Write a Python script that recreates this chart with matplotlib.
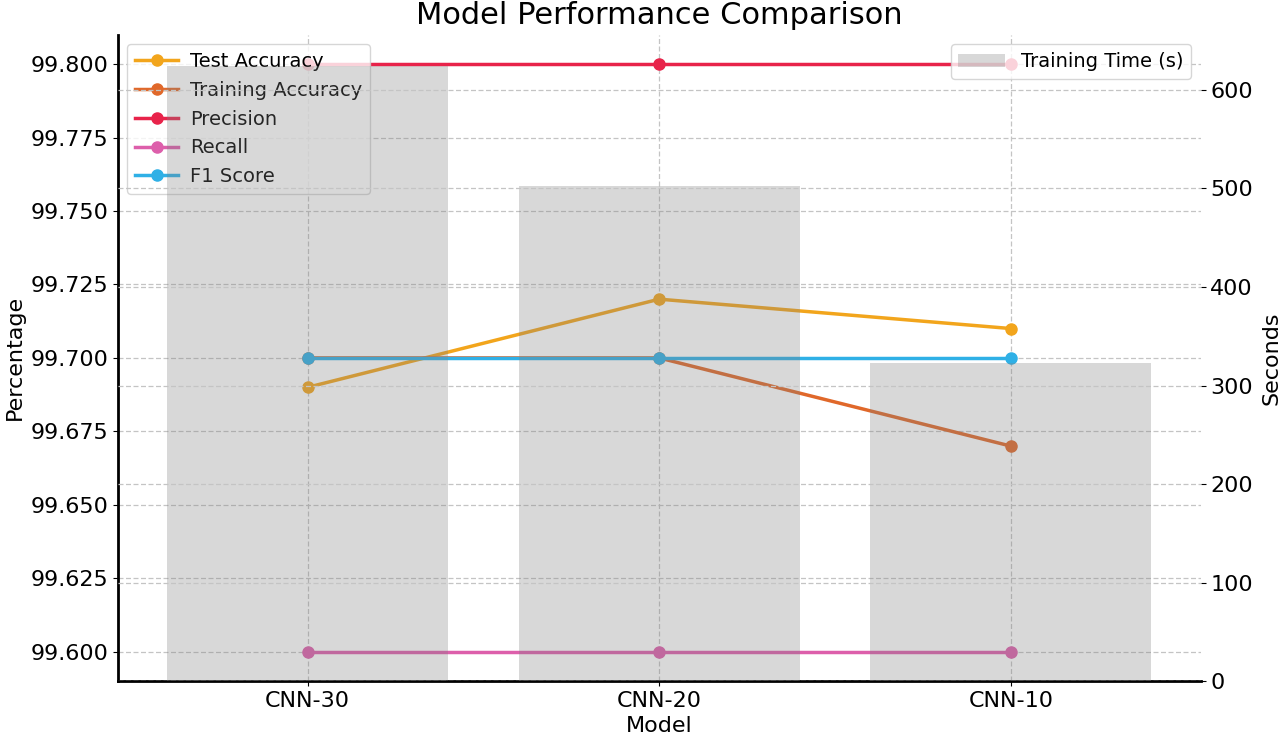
import matplotlib
matplotlib.use("Agg")
import matplotlib.pyplot as plt
import numpy as np

models = ["CNN-30", "CNN-20", "CNN-10"]
test_acc = [99.69, 99.72, 99.71]
train_acc = [99.70, 99.70, 99.67]
precision = [99.80, 99.80, 99.80]
recall = [99.60, 99.60, 99.60]
f1 = [99.70, 99.70, 99.70]
train_time = [624, 502, 323]

x = np.arange(len(models))

fig = plt.figure(figsize=(12.8, 7.38), dpi=100)
ax = fig.add_axes([0.092, 0.077, 0.846, 0.876])
ax2 = ax.twinx()

ax.plot(x, test_acc, marker="o", color="#f2a51c", lw=2.5, ms=8, label="Test Accuracy")
ax.plot(x, train_acc, marker="o", color="#e0682a", lw=2.5, ms=8, label="Training Accuracy")
ax.plot(x, precision, marker="o", color="#e8234a", lw=2.5, ms=8, label="Precision")
ax.plot(x, recall, marker="o", color="#dd5fab", lw=2.5, ms=8, label="Recall")
ax.plot(x, f1, marker="o", color="#2fb0e6", lw=2.5, ms=8, label="F1 Score")

ax2.bar(x, train_time, width=0.8, color="gray", alpha=0.3, label="Training Time (s)")

ax.set_xticks(x)
ax.set_xticklabels(models, fontsize=16)
yt = np.arange(99.600, 99.801, 0.025)
ax.set_yticks(yt)
ax.set_yticklabels(["%.3f" % v for v in yt], fontsize=16)
ax.set_ylim(99.59, 99.81)
ax2.set_ylim(0, 656)
ax2.set_yticks([0, 100, 200, 300, 400, 500, 600])
ax2.tick_params(labelsize=16)

ax.set_xlabel("Model", fontsize=16, labelpad=4)
ax.set_ylabel("Percentage", fontsize=16, labelpad=4)
ax2.set_ylabel("Seconds", fontsize=16, labelpad=6)
ax.set_title("Model Performance Comparison", fontsize=22, pad=8)

ax.grid(True, linestyle=(0, (4, 2)), color="#c4c4c4", lw=0.9)
ax2.grid(True, axis="y", linestyle=(0, (4, 2)), color="#c4c4c4", lw=0.9)

for a in (ax, ax2):
    a.spines["top"].set_visible(False)
    a.spines["right"].set_visible(False)
ax2.spines["left"].set_visible(False)
ax2.spines["bottom"].set_visible(False)
ax.spines["left"].set_linewidth(2)
ax.spines["bottom"].set_linewidth(2)

ax.legend(loc="upper left", fontsize=14, borderpad=0.4, labelspacing=0.5,
          handlelength=2.2, handletextpad=0.6)
ax2.legend(loc="upper right", fontsize=14, borderpad=0.4, handlelength=2.4)

fig.savefig("out.png", dpi=100)
